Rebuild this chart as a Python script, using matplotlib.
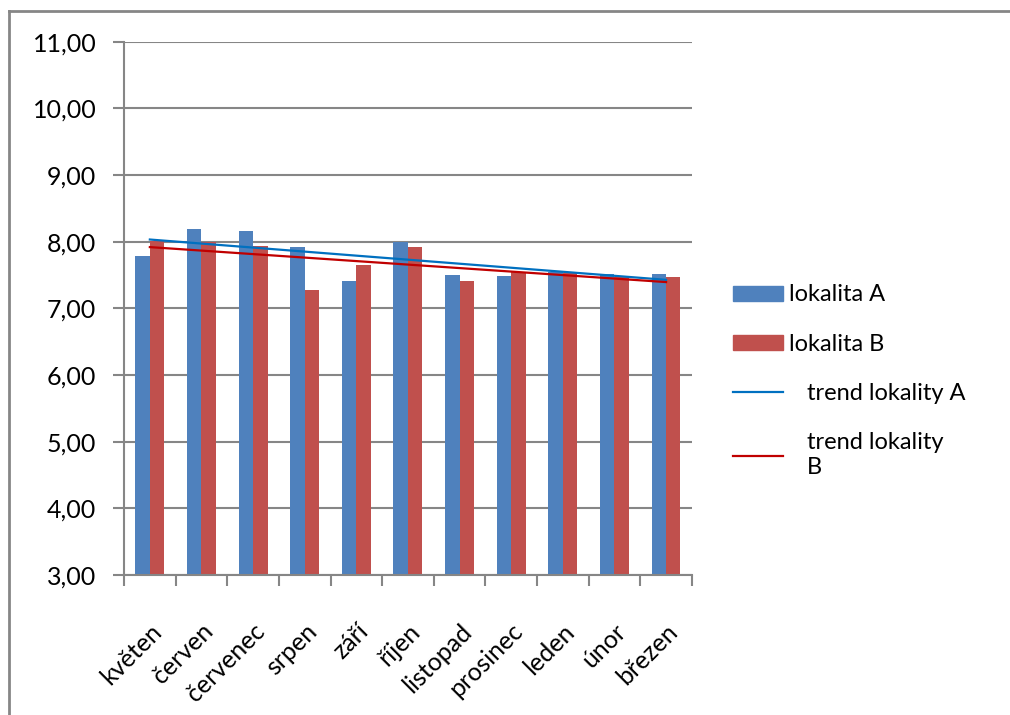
import numpy as np
import matplotlib.pyplot as plt
from matplotlib.lines import Line2D
from matplotlib.patches import Patch

months = ["květen", "červen", "červenec", "srpen", "září", "říjen",
          "listopad", "prosinec", "leden", "únor", "březen"]
lokalita_a = [7.79, 8.19, 8.16, 7.92, 7.41, 7.99, 7.50, 7.48, 7.55, 7.52, 7.52]
lokalita_b = [8.01, 8.00, 7.94, 7.28, 7.65, 7.92, 7.41, 7.54, 7.53, 7.47, 7.47]
y_ticks = [3, 4, 5, 6, 7, 8, 9, 10, 11]

BLUE = "#4F81BD"
RED = "#C0504D"
TREND_A = "#0070C0"
TREND_B = "#C00000"
GRID = "#868686"

plt.rcParams["font.family"] = ["Lato", "DejaVu Sans"]

fig = plt.figure(figsize=(10.1, 7.15), dpi=100)
ax = fig.add_axes([0.1228, 0.1958, 0.5622, 0.7459])

x = np.arange(len(months))
w = 0.28
ax.bar(x - w / 2, lokalita_a, w, bottom=0, color=BLUE, zorder=2)
ax.bar(x + w / 2, lokalita_b, w, bottom=0, color=RED, zorder=2)

# linear trends over the months
for vals, col in ((lokalita_a, TREND_A), (lokalita_b, TREND_B)):
    k, q = np.polyfit(x, vals, 1)
    ax.plot(x, k * x + q, color=col, lw=1.6, zorder=3)

ax.set_xlim(-0.5, len(months) - 0.5)
ax.set_ylim(3, 11)
ax.set_yticks(y_ticks)
ax.set_yticklabels([f"{v:.2f}".replace(".", ",") for v in y_ticks])
ax.yaxis.grid(True, color=GRID, lw=1.5, zorder=0)
ax.set_axisbelow(True)

ax.set_xticks(np.arange(len(months) + 1) - 0.5, minor=False)
ax.set_xticklabels([])
ax.set_xticks(x, minor=True)
ax.set_xticklabels(months, minor=True, rotation=45, ha="right",
                   rotation_mode="anchor", fontsize=18)
ax.tick_params(axis="x", which="minor", length=0, pad=32)
ax.tick_params(axis="x", which="major", length=8, width=1.5, color=GRID,
               direction="out")
ax.tick_params(axis="y", length=8, width=1.5, color=GRID, pad=12,
               labelsize=18)

for side in ("top", "right"):
    ax.spines[side].set_visible(False)
for side in ("left", "bottom"):
    ax.spines[side].set_color(GRID)
    ax.spines[side].set_linewidth(1.5)

handles = [Patch(color=BLUE), Patch(color=RED),
           Line2D([], [], color=TREND_A, lw=1.6),
           Line2D([], [], color=TREND_B, lw=1.6)]
labels = ["lokalita A", "lokalita B", "   trend lokality A",
          "   trend lokality\n   B"]
fig.legend(handles, labels, loc="upper left", bbox_to_anchor=(0.705, 0.632),
           frameon=False, fontsize=17, handlelength=2.1, handleheight=0.6,
           handletextpad=0.25, labelspacing=1.2)

# outer chart frame
fig.add_artist(Line2D([0.009, 0.009], [0.985, -0.01], color=GRID, lw=2,
                      transform=fig.transFigure))
fig.add_artist(Line2D([0.009, 1.01], [0.985, 0.985], color=GRID, lw=2,
                      transform=fig.transFigure))

fig.savefig("out.png", dpi=100, facecolor="white")
